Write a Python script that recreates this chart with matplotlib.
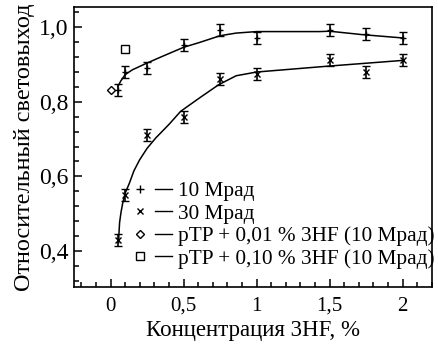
import numpy as np
import matplotlib
matplotlib.use("Agg")
import matplotlib.pyplot as plt
from matplotlib.ticker import MultipleLocator, FuncFormatter
from matplotlib.lines import Line2D
from matplotlib.legend_handler import HandlerTuple

plt.rcParams['font.family'] = ['Liberation Serif', 'DejaVu Serif']

# measured points
x10 = [0.05, 0.1, 0.25, 0.5, 0.75, 1.0, 1.5, 1.75, 2.0]
y10 = [0.83, 0.88, 0.89, 0.95, 0.99, 0.97, 0.99, 0.98, 0.97]
x30 = [0.05, 0.1, 0.25, 0.5, 0.75, 1.0, 1.5, 1.75, 2.0]
y30 = [0.43, 0.55, 0.71, 0.76, 0.86, 0.875, 0.91, 0.88, 0.91]
err = 0.016

x_d = [0.0]
y_d = [0.83]
x_s = [0.1]
y_s = [0.94]

# fitted curves
fit10_x = [0.05, 0.07, 0.10, 0.15, 0.25, 0.35, 0.50, 0.61, 0.68, 0.75, 0.86, 1.00, 1.43, 1.50, 1.72, 2.00]
fit10_y = [0.84, 0.855, 0.872, 0.885, 0.903, 0.920, 0.945, 0.958, 0.967, 0.976, 0.983, 0.987, 0.987, 0.988, 0.979, 0.970]
fit30_x = [0.055, 0.058, 0.062, 0.072, 0.084, 0.10, 0.13, 0.16, 0.20, 0.25, 0.31, 0.40, 0.48, 0.61, 0.74, 0.86, 1.00, 1.50, 2.00]
fit30_y = [0.423, 0.45, 0.477, 0.505, 0.530, 0.555, 0.583, 0.615, 0.645, 0.675, 0.703, 0.739, 0.774, 0.810, 0.845, 0.869, 0.879, 0.895, 0.910]

labels = ['10 Мрад', '30 Мрад', 'pTP + 0,01 % 3HF (10 Мрад)', 'pTP + 0,10 % 3HF (10 Мрад)']

fig = plt.figure(figsize=(4.38, 3.44), dpi=100)
ax = fig.add_axes([0.169, 0.166, 0.817, 0.814])

ax.plot(fit10_x, fit10_y, color='black', lw=1.1)
ax.plot(fit30_x, fit30_y, color='black', lw=1.1)
ax.errorbar(x10, y10, yerr=err, fmt='+', color='black', ms=5, mew=1.0,
            elinewidth=1.2, capsize=3, capthick=1.2)
ax.errorbar(x30, y30, yerr=err, fmt='x', color='black', ms=4, mew=1.0,
            elinewidth=1.2, capsize=3, capthick=1.2)
ax.plot(x_d, y_d, 'D', mfc='white', mec='black', ms=4.5, mew=1.0)
ax.plot(x_s, y_s, 's', mfc='white', mec='black', ms=5.5, mew=1.0)

ax.set_xlim(-0.25, 2.2)
ax.set_ylim(0.305, 1.053)
ax.xaxis.set_major_locator(MultipleLocator(0.5))
ax.xaxis.set_minor_locator(MultipleLocator(0.1))
ax.yaxis.set_major_locator(MultipleLocator(0.2))
ax.yaxis.set_minor_locator(MultipleLocator(0.04))
ax.xaxis.set_major_formatter(FuncFormatter(lambda v, p: ('%g' % round(v, 2)).replace('.', ',')))
ax.yaxis.set_major_formatter(FuncFormatter(lambda v, p: ('%.1f' % v).replace('.', ',')))
ax.tick_params(which='both', direction='in', width=1.1)
ax.tick_params(which='major', length=6)
ax.tick_params(which='minor', length=3.5)
ax.tick_params(axis='x', pad=7, labelsize=15)
ax.tick_params(axis='y', pad=4, labelsize=17)
for s in ax.spines.values():
    s.set_linewidth(1.2)

ax.set_xlabel('Концентрация 3HF, %', fontsize=16.5, labelpad=3)
ax.set_ylabel('Относительный световыход', fontsize=17.5, labelpad=3)

markers = [dict(marker='+', ms=6, mfc='black'), dict(marker='x', ms=4.5, mfc='black'),
           dict(marker='D', ms=4.5, mfc='white'), dict(marker='s', ms=5.5, mfc='white')]
handles = []
for m in markers:
    mk = Line2D([], [], ls='none', color='black', mec='black', mew=1.0, **m)
    ln = Line2D([], [], color='black', lw=1.0)
    handles.append((mk, ln))
ax.legend(handles, labels, handler_map={tuple: HandlerTuple(ndivide=None, pad=0.3)},
          loc='lower left', bbox_to_anchor=(0.136, 0.035), frameon=False, fontsize=15.3,
          handlelength=1.9, handletextpad=0.3, labelspacing=0.12, borderaxespad=0)

fig.savefig('out.png', dpi=100)
